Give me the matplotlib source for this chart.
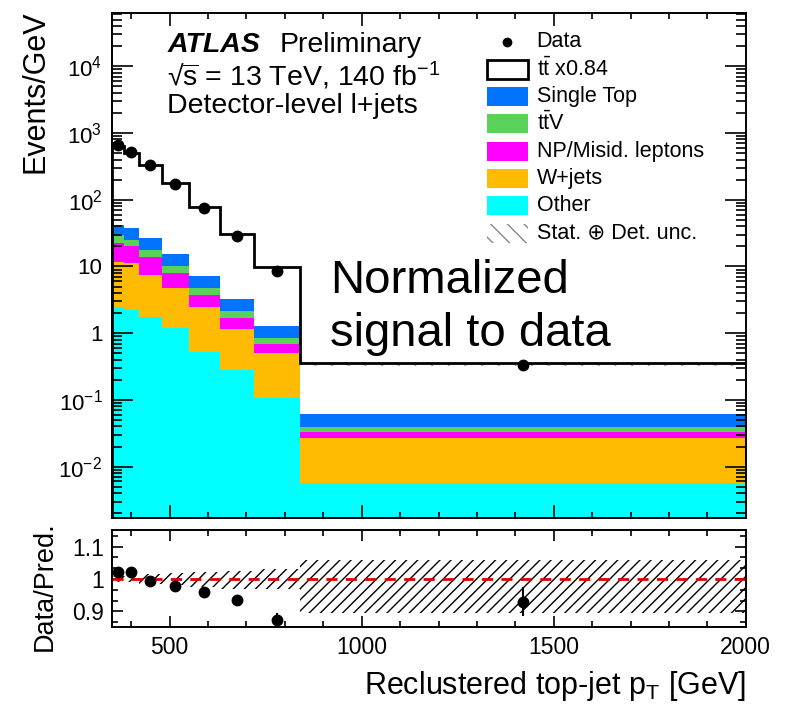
import numpy as np
import matplotlib
matplotlib.use("Agg")
import matplotlib.pyplot as plt
from matplotlib.patches import Rectangle
from matplotlib.ticker import LogLocator, MultipleLocator, FuncFormatter, FixedLocator, NullFormatter

plt.rcParams["font.family"] = ["Liberation Sans", "DejaVu Sans"]
plt.rcParams["mathtext.fontset"] = "custom"
plt.rcParams["mathtext.rm"] = "Liberation Sans"
plt.rcParams["mathtext.it"] = "Liberation Sans:italic"
plt.rcParams["mathtext.bf"] = "Liberation Sans:bold"
plt.rcParams["hatch.linewidth"] = 1.0

# ── data ───────────────────────────────────────────────────────────
edges = [350, 380, 420, 480, 550, 630, 720, 840, 2000]
bin_centers = [365, 400, 450, 515, 590, 675, 780, 1420]

data_evts  = [668, 518, 328, 172, 75.0, 28.3, 8.6, 0.33]
ttbar      = [608, 472, 308, 161, 70.7, 27.0, 8.6, 0.293]
single_top = [12.3, 12.5, 9.3, 5.1, 2.5, 1.11, 0.45, 0.0219]
ttv        = [7.5, 5.1, 3.6, 2.3, 1.04, 0.48, 0.16, 0.0063]
np_misid   = [10.9, 8.8, 6.3, 3.16, 1.31, 0.52, 0.18, 0.0063]
wjets      = [9.0, 9.0, 5.8, 3.55, 1.92, 0.88, 0.39, 0.0215]
other      = [2.51, 2.24, 1.74, 1.19, 0.53, 0.28, 0.108, 0.00575]

ratio      = [1.023, 1.022, 0.995, 0.977, 0.959, 0.934, 0.874, 0.930]
ratio_err  = [0.004, 0.004, 0.004, 0.005, 0.006, 0.008, 0.022, 0.046]
unc_up     = [0.008, 0.010, 0.015, 0.020, 0.022, 0.025, 0.030, 0.060]
unc_dn     = [0.008, 0.010, 0.015, 0.020, 0.025, 0.030, 0.030, 0.105]

y_decades = [1e-2, 1e-1, 1, 10, 1e2, 1e3, 1e4]

# stack order bottom -> top
stack = [
    ("Other", other, "#00ffff"),
    ("W+jets", wjets, "#ffbb00"),
    ("NP/Misid. leptons", np_misid, "#ff00ff"),
    (r"$\mathrm{t\bar{t}V}$", ttv, "#5ad25a"),
    ("Single Top", single_top, "#0073ff"),
]

# ── figure ─────────────────────────────────────────────────────────
fig = plt.figure(figsize=(7.95, 7.09), dpi=100)
ax  = fig.add_axes([0.141, 0.2694, 0.797, 0.7123])
axr = fig.add_axes([0.141, 0.115, 0.797, 0.1368])

base = np.full(len(other), 1e-6)
for name, vals, col in stack:
    top = base + np.array(vals)
    ax.stairs(top, edges, baseline=base, fill=True, color=col, lw=0)
    base = top
bkg = base
total = bkg + np.array(ttbar)
ax.stairs(total, edges, baseline=bkg, fill=True, color="white", lw=0)
ax.stairs(total * (1 + np.array(unc_up)), edges, baseline=total * (1 - np.array(unc_dn)),
          fill=True, facecolor="none", edgecolor="#999999", hatch="\\\\", lw=0)
ax.stairs(total, edges, color="black", lw=2.0)
ax.plot(bin_centers, data_evts, "o", color="black", ms=7.5, zorder=5)

ax.set_yscale("log")
ax.set_xlim(350, 2000)
ax.set_ylim(1.7e-3, 6.3e4)

def ylog_fmt(v, pos):
    e = int(round(np.log10(v)))
    if e == 0:
        return "1"
    if e == 1:
        return "10"
    return r"$10^{%d}$" % e

ax.yaxis.set_major_locator(FixedLocator(y_decades))
ax.yaxis.set_minor_locator(LogLocator(base=10, subs=np.arange(2, 10), numticks=20))
ax.yaxis.set_major_formatter(FuncFormatter(ylog_fmt))
ax.yaxis.set_minor_formatter(NullFormatter())
ax.xaxis.set_major_locator(MultipleLocator(500))
ax.xaxis.set_minor_locator(MultipleLocator(100))
ax.tick_params(axis="both", which="both", direction="in", top=True, right=True,
               labelbottom=False, width=1.2, labelsize=16, pad=7)
ax.tick_params(axis="both", which="minor", labelleft=False, labelbottom=False)
ax.tick_params(axis="y", which="major", length=15)
ax.tick_params(axis="y", which="minor", length=7)
ax.tick_params(axis="x", which="major", length=9.5)
ax.tick_params(axis="x", which="minor", length=4.5)
for s in ax.spines.values():
    s.set_linewidth(1.4)
ax.set_ylabel("Events/GeV", fontsize=22, loc="top")
ax.yaxis.set_label_coords(-0.097, 1.006)

# ── labels on main pad ─────────────────────────────────────────────
ax.text(0.0868, 0.9234, "ATLAS", fontsize=20.5, fontweight="bold", style="italic",
        transform=ax.transAxes, va="baseline")
ax.text(0.265, 0.9234, "Preliminary", fontsize=20.5, transform=ax.transAxes, va="baseline")
ax.text(0.0868, 0.8554, u"\u221a$\\overline{\\mathrm{s}}$ = 13 TeV, 140 fb$^{\\mathrm{-1}}$",
        fontsize=20.5, transform=ax.transAxes, va="baseline")
ax.text(0.0868, 0.8014, "Detector-level l+jets", fontsize=20.5,
        transform=ax.transAxes, va="baseline")
ax.text(0.344, 0.4455, "Normalized", fontsize=34, transform=ax.transAxes, va="baseline")
ax.text(0.344, 0.3406, "signal to data", fontsize=34, transform=ax.transAxes, va="baseline")

# legend drawn by hand
leg_entries = [("Data", "marker", None),
               (r"$\mathrm{t\bar{t}}$ x0.84", "box", "white"),
               ("Single Top", "fill", "#0073ff"),
               (r"$\mathrm{t\bar{t}V}$", "fill", "#5ad25a"),
               ("NP/Misid. leptons", "fill", "#ff00ff"),
               ("W+jets", "fill", "#ffbb00"),
               ("Other", "fill", "#00ffff"),
               (u"Stat. \u2295 Det. unc.", "hatch", None)]
y0, dy = 0.943, 0.0542
bx0, bw, bh = 0.591, 0.066, 0.0376
for i, (lab, kind, col) in enumerate(leg_entries):
    yc = y0 - i * dy
    if kind == "marker":
        ax.plot([bx0 + bw / 2], [yc], "o", color="black", ms=6, transform=ax.transAxes)
    elif kind == "box":
        ax.add_patch(Rectangle((bx0, yc - bh / 2), bw, bh, transform=ax.transAxes,
                               facecolor="white", edgecolor="black", lw=2))
    elif kind == "fill":
        ax.add_patch(Rectangle((bx0, yc - bh / 2), bw, bh, transform=ax.transAxes,
                               facecolor=col, edgecolor="none"))
    else:
        ax.add_patch(Rectangle((bx0, yc - bh / 2), bw, bh, transform=ax.transAxes,
                               facecolor="none", edgecolor="#888888", hatch="\\\\", lw=0))
    ax.text(0.670, yc, lab, fontsize=15.5, transform=ax.transAxes, va="center",
            family=["Liberation Sans", "DejaVu Sans"])

# ── ratio pad ──────────────────────────────────────────────────────
axr.stairs(1 + np.array(unc_up), edges, baseline=1 - np.array(unc_dn), fill=True,
           facecolor="none", edgecolor="black", hatch="///", lw=0)
axr.axhline(1.0, color="#e00000", lw=2, ls=(0, (4, 3)))
axr.errorbar(bin_centers, ratio, yerr=ratio_err, fmt="o", color="black", ms=7.5,
             elinewidth=1.5, capsize=0, zorder=5)
axr.set_xlim(350, 2000)
axr.set_ylim(0.85, 1.15)
axr.xaxis.set_major_locator(MultipleLocator(500))
axr.xaxis.set_minor_locator(MultipleLocator(100))
axr.yaxis.set_major_locator(FixedLocator([0.9, 1.0, 1.1]))
axr.yaxis.set_minor_locator(FixedLocator([0.8667, 0.9333, 0.9667, 1.0333, 1.0667, 1.1333]))
axr.yaxis.set_major_formatter(FuncFormatter(lambda v, p: "%g" % round(v, 2)))
axr.yaxis.set_minor_formatter(NullFormatter())
axr.tick_params(axis="both", which="both", direction="in", top=True, right=True,
                width=1.2, labelsize=16.5, pad=6)
axr.tick_params(axis="both", which="minor", labelleft=False, labelbottom=False)
axr.tick_params(axis="y", which="major", length=8)
axr.tick_params(axis="y", which="minor", length=4)
axr.tick_params(axis="x", which="major", length=8)
axr.tick_params(axis="x", which="minor", length=4)
for s in axr.spines.values():
    s.set_linewidth(1.4)
axr.set_ylabel("Data/Pred.", fontsize=19.5)
axr.yaxis.set_label_coords(-0.086, 0.43)
axr.set_xlabel(r"Reclustered top-jet p$_{\mathrm{T}}$ [GeV]", fontsize=22, loc="right")
axr.xaxis.set_label_coords(1.0, -0.43)

fig.savefig("out.png", dpi=100)
